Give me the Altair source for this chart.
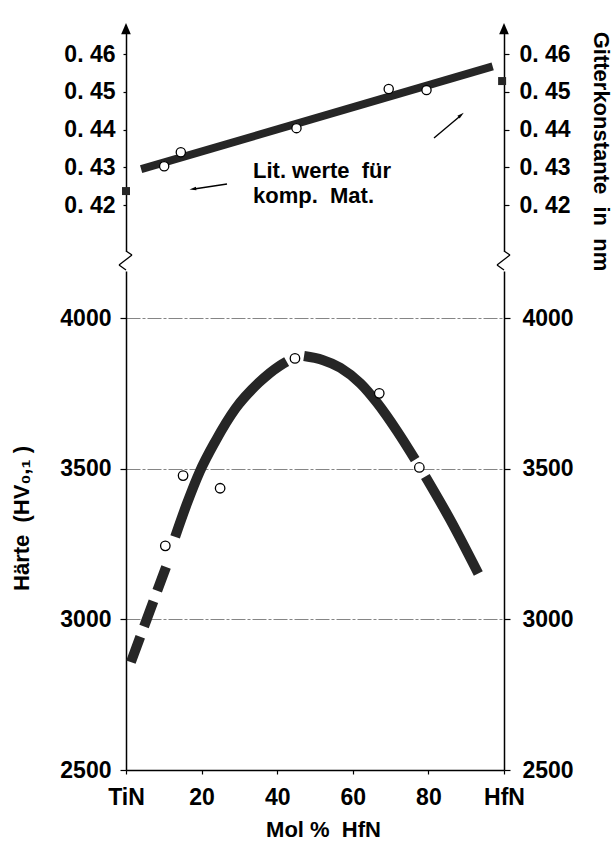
import altair as alt
import pandas as pd

# ---------------- data ----------------
X_TICKS = [0, 20, 40, 60, 80, 100]
X_TICK_LABELS = ["TiN", "20", "40", "60", "80", "HfN"]
LAT_TICKS = [0.42, 0.43, 0.44, 0.45, 0.46]
HV_TICKS = [2500, 3000, 3500, 4000]

# lattice constant (nm), measured points
lat_meas_x = [10.1, 14.5, 45.1, 69.5, 79.5]
lat_meas_y = [0.4303, 0.4340, 0.4404, 0.4508, 0.4505]
# fitted straight band
lat_fit_x = [4.0, 97.0]
lat_fit_y = [0.4295, 0.4568]
# literature values for the pure compounds
lat_lit_x = [0.0, 99.5]
lat_lit_y = [0.4237, 0.4529]

# hardness HV0.1, measured points
hv_meas_x = [10.4, 15.1, 24.9, 44.7, 67.0, 77.6]
hv_meas_y = [3244, 3477, 3435, 3866, 3750, 3504]
# dashed start of the hardness curve
hv_dash_x = [1.3, 10.6]
hv_dash_y = [2858, 3174]
# solid parts of the hardness curve
hv_curve_x = [13.0, 16.0, 19.5, 23.6, 29.0, 35.2, 40.5, 42.5,
              47.1, 52.0, 56.7, 62.0, 66.4, 71.7, 76.5,
              79.2, 85.8, 93.2]
hv_curve_y = [3274, 3380, 3490, 3590, 3700, 3786, 3840, 3855,
              3874, 3861, 3835, 3783, 3719, 3625, 3530,
              3474, 3330, 3152]
hv_curve_seg = ["b", "b", "b", "b", "b", "b", "b", "b",
                "c", "c", "c", "c", "c", "c", "c",
                "d", "d", "d"]

NB = "\u00a0"
NOTE_LINES = [f"Lit.{NB}werte{NB}{NB}für", f"komp.{NB}{NB}Mat."]
X_TITLE = f"Mol{NB}%{NB}{NB}HfN"
LEFT_TITLE = f"Härte{NB}{NB}(HV₀,₁{NB})"
RIGHT_TITLE = f"Gitterkonstante{NB}{NB}in{NB}{NB}nm"

# ---------------- style ----------------
FONT = "Liberation Sans"
WEIGHT = "bold"
INK = "#262626"
W = 378
H_TOP = 222
H_BOT = 499

x_scale = alt.Scale(domain=[0, 100], nice=False, zero=False)
top_scale = alt.Scale(domain=[0.40779, 0.46672], nice=False, zero=False)
bot_scale = alt.Scale(domain=[2500, 4156], nice=False, zero=False)

x_label_expr = " : ".join(
    f"datum.value == {v} ? '{l}'" for v, l in zip(X_TICKS, X_TICK_LABELS)
) + " : datum.label"
lat_label_expr = "replace(format(datum.value, '.2f'), '.', '. ')"

one = pd.DataFrame({"a": [0]})
ARROW = "M0,-1L0.7,0.6L-0.7,0.6Z"
HEAD = "M0,-1L0.5,0.9L-0.5,0.9Z"


def seg(x1, y1, x2, y2, width=1.5, color="black"):
    return alt.Chart(one).mark_rule(color=color, strokeWidth=width).encode(
        x=alt.value(x1), y=alt.value(y1), x2=alt.value(x2), y2=alt.value(y2)
    )


# ---------------- top panel: lattice constant ----------------
lat_fit = alt.Chart(pd.DataFrame({"x": lat_fit_x, "y": lat_fit_y})).mark_line(
    color=INK, strokeWidth=8, strokeCap="butt"
).encode(
    x=alt.X("x:Q", scale=x_scale, axis=None),
    y=alt.Y("y:Q", scale=top_scale, axis=alt.Axis(
        orient="left", values=LAT_TICKS, labelExpr=lat_label_expr, title=None,
        tickSize=3, labelPadding=8, grid=False)),
)

lat_pts = alt.Chart(pd.DataFrame({"x": lat_meas_x, "y": lat_meas_y})).mark_circle(
    fill="white", stroke="black", strokeWidth=1.3, size=85, opacity=1
).encode(
    x=alt.X("x:Q", scale=x_scale, axis=None),
    y=alt.Y("y:Q", scale=top_scale, axis=alt.Axis(
        orient="right", values=LAT_TICKS, labelExpr=lat_label_expr,
        title=RIGHT_TITLE, titleAngle=90, titleX=89, titleY=122,
        titleBaseline="alphabetic", titleAlign="center", titleFontSize=22,
        tickSize=5, labelPadding=10, grid=False)),
)

lat_lit = alt.Chart(pd.DataFrame({"x": lat_lit_x, "y": lat_lit_y})).mark_square(
    color=INK, size=64, opacity=1
).encode(
    x=alt.X("x:Q", scale=x_scale, axis=None),
    y=alt.Y("y:Q", scale=top_scale, axis=None),
)

axis_arrows = [
    alt.Chart(one).mark_point(shape=ARROW, size=190, filled=True, color="black", opacity=1)
    .encode(x=alt.value(px), y=alt.value(1))
    for px in (0, W)
]

note = [
    alt.Chart(one).mark_text(align="left", baseline="alphabetic", fontSize=22,
                             font=FONT, fontWeight=WEIGHT, color="black")
    .encode(x=alt.value(127), y=alt.value(149 + 25 * i), text=alt.value(t))
    for i, t in enumerate(NOTE_LINES)
]

note_arrows = [
    seg(101, 155, 68, 160, width=1.4),
    alt.Chart(one).mark_point(shape=HEAD, size=50, filled=True, color="black",
                              opacity=1, angle=262)
    .encode(x=alt.value(67), y=alt.value(160)),
    seg(308, 109, 333, 88, width=1.4),
    alt.Chart(one).mark_point(shape=HEAD, size=50, filled=True, color="black",
                              opacity=1, angle=51)
    .encode(x=alt.value(335), y=alt.value(86)),
]

# axis-break zigzags below the top panel
ZIG = [(0, 0, 6, 4), (6, 4, -7, 14), (-7, 14, 0, 19)]
zigzags = [
    seg(bx + a, H_TOP + b, bx + c, H_TOP + d, width=1.3)
    for bx in (0, W) for (a, b, c, d) in ZIG
]

anchor_top = seg(-125, -28, -125, -27, width=1, color="white")

top = alt.layer(
    anchor_top, lat_fit, lat_lit, lat_pts, *axis_arrows, *note, *note_arrows, *zigzags
).properties(width=W, height=H_TOP).resolve_axis(y="independent")

# ---------------- bottom panel: hardness ----------------
hv_curve = alt.Chart(pd.DataFrame({"x": hv_curve_x, "y": hv_curve_y, "s": hv_curve_seg})).mark_line(
    color=INK, strokeWidth=10, strokeCap="butt", interpolate="monotone"
).encode(
    x=alt.X("x:Q", scale=x_scale, axis=alt.Axis(
        orient="bottom", values=X_TICKS, labelExpr=x_label_expr,
        title=X_TITLE, titleX=197, titleY=66, titleBaseline="alphabetic",
        titleAlign="center", tickSize=4, labelPadding=30,
        labelBaseline="alphabetic", grid=False)),
    y=alt.Y("y:Q", scale=bot_scale, axis=alt.Axis(
        orient="left", values=HV_TICKS, format="d",
        title=LEFT_TITLE, titleAngle=270, titleX=-98, titleY=247,
        titleBaseline="alphabetic", titleAlign="center",
        tickSize=6, labelPadding=9,
        grid=True, gridColor="#666666", gridDash=[14, 2, 3, 2], gridWidth=0.8)),
    detail="s:N",
)

hv_dash = alt.Chart(pd.DataFrame({"x": hv_dash_x, "y": hv_dash_y})).mark_line(
    color=INK, strokeWidth=10, strokeCap="butt", strokeDash=[27, 11]
).encode(
    x=alt.X("x:Q", scale=x_scale, axis=None),
    y=alt.Y("y:Q", scale=bot_scale, axis=None),
)

hv_pts = alt.Chart(pd.DataFrame({"x": hv_meas_x, "y": hv_meas_y})).mark_circle(
    fill="white", stroke="black", strokeWidth=1.3, size=90, opacity=1
).encode(
    x=alt.X("x:Q", scale=x_scale, axis=None),
    y=alt.Y("y:Q", scale=bot_scale, axis=alt.Axis(
        orient="right", values=HV_TICKS, format="d", title=None,
        tickSize=6, labelPadding=12, grid=False)),
)

anchor_bot = seg(-125, 0, -125, 1, width=1, color="white")

bottom = alt.layer(
    anchor_bot, hv_curve, hv_dash, hv_pts
).properties(width=W, height=H_BOT).resolve_axis(x="independent", y="independent")

chart = alt.vconcat(top, bottom, spacing=20, bounds="flush").properties(
    padding={"left": 0, "top": 0, "right": 4, "bottom": 0},
    background="white",
).configure_view(stroke=None).configure_axis(
    labelFont=FONT, titleFont=FONT, labelFontSize=23, titleFontSize=22,
    labelFontWeight=WEIGHT, titleFontWeight=WEIGHT,
    labelColor="black", titleColor="black",
    domainColor="black", tickColor="black", domainWidth=1.5, tickWidth=1.2,
    labelFlush=False, labelOverlap=False,
).configure_text(font=FONT)

chart.save("out.html", embed_options={"renderer": "svg", "actions": False})
